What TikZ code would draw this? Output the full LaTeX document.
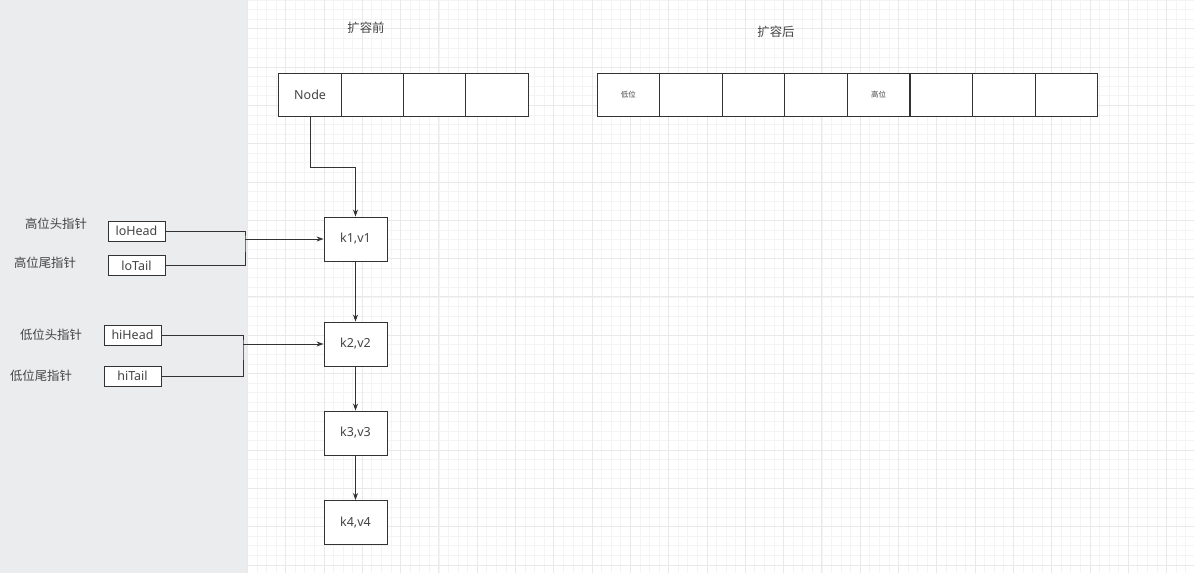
\documentclass[tikz,border=0pt]{standalone}
\usepackage{fontspec}
\setmainfont{Noto Sans}
\newfontfamily\cjk{Noto Sans CJK SC}
\usetikzlibrary{arrows.meta}
\definecolor{panel}{HTML}{EBECEE}
\definecolor{gminor}{HTML}{F4F4F4}
\definecolor{gmajor}{HTML}{E9E9E9}
\definecolor{linec}{HTML}{333333}
\definecolor{textc}{HTML}{444444}
\begin{document}
\begin{tikzpicture}[x=1pt,y=-1pt,
  cell/.style={draw=linec,line width=0.9pt,fill=white,minimum width=62.4pt,minimum height=43pt,inner sep=0pt,text=textc,font=\fontsize{12.5}{14}\selectfont},
  kbox/.style={draw=linec,line width=0.9pt,fill=white,minimum width=63pt,minimum height=44pt,inner sep=0pt,text=textc,font=\fontsize{12.5}{14}\selectfont},
  pbox/.style={draw=linec,line width=0.9pt,fill=white,minimum width=57pt,minimum height=20pt,inner sep=0pt,text=textc,font=\fontsize{12.5}{14}\selectfont},
  lab/.style={text=textc,inner sep=0pt,font=\cjk\fontsize{12.4}{14}\selectfont},
  small/.style={text=textc,inner sep=0pt,font=\cjk\fontsize{8}{9}\selectfont},
  conn/.style={draw=linec,line width=0.8pt},
  arr/.style={conn,-{Stealth[length=7pt,width=5pt]}}]
\useasboundingbox (0,0) rectangle (1194,573);
\fill[white] (0,0) rectangle (1194,573);
% grid
\foreach \i in {0,...,98} {
  \pgfmathsetmacro\gx{247.3+9.575*\i}
  \draw[gminor,line width=0.6pt] (\gx,0) -- (\gx,573);
}
\foreach \j in {0,...,60} {
  \pgfmathsetmacro\gy{9.575*\j}
  \draw[gminor,line width=0.6pt] (247,\gy) -- (1194,\gy);
}
\foreach \i in {0,...,24} {
  \pgfmathsetmacro\gx{247.3+38.3*\i}
  \draw[gmajor,line width=0.8pt] (\gx,0) -- (\gx,573);
}
\foreach \j in {0,...,14} {
  \pgfmathsetmacro\gy{28.7+38.3*\j}
  \draw[gmajor,line width=0.8pt] (247,\gy) -- (1194,\gy);
}
\fill[panel] (0,0) rectangle (247,573);
% titles
\node[lab] (t1) at (366,28) {扩容前};
\node[lab] (t2) at (776,32) {扩容后};
% array before
\node[cell] (a1) at (310.1,94.5) {Node};
\node[cell] (a2) at (372.4,94.5) {};
\node[cell] (a3) at (434.6,94.5) {};
\node[cell] (a4) at (496.9,94.5) {};
% array after
\node[cell,font=\cjk\fontsize{7.5}{9}\selectfont] (b1) at (628.3,94.5) {低位};
\node[cell] (b2) at (690.9,94.5) {};
\node[cell] (b3) at (753.5,94.5) {};
\node[cell] (b4) at (816.1,94.5) {};
\node[cell,font=\cjk\fontsize{7.5}{9}\selectfont] (b5) at (878.7,94.5) {高位};
\node[cell] (b6) at (941.3,94.5) {};
\node[cell] (b7) at (1003.9,94.5) {};
\node[cell] (b8) at (1066.5,94.5) {};
% chain
\node[kbox] (k1) at (355.5,239) {k1,v1};
\node[kbox] (k2) at (355.5,344) {k2,v2};
\node[kbox] (k3) at (355.5,433) {k3,v3};
\node[kbox] (k4) at (355.5,522.5) {k4,v4};
\coordinate (bend) at (310.1,167);
\draw[arr] (a1.south) -- (bend) -| (k1.north);
\draw[arr] (k1.south) -- (k2.north);
\draw[arr] (k2.south) -- (k3.north);
\draw[arr] (k3.south) -- (k4.north);
% pointers
\node[pbox] (loHead) at (136.5,231) {loHead};
\node[pbox] (loTail) at (136.5,265.5) {loTail};
\node[pbox] (hiHead) at (132.5,335) {hiHead};
\node[pbox] (hiTail) at (132.5,376) {hiTail};
\node[lab] (l1) at (56,224) {高位头指针};
\node[lab] (l2) at (45,263) {高位尾指针};
\node[lab] (l3) at (51,335) {低位头指针};
\node[lab] (l4) at (41,376) {低位尾指针};
\coordinate (j1) at (245,239);
\coordinate (j2) at (243,344);
\draw[conn] (loHead.east) -| (j1) |- (loTail.east);
\draw[arr] (j1) -- (k1.west);
\draw[conn] (hiHead.east) -| (j2) |- (hiTail.east);
\draw[arr] (j2) -- (k2.west);
\end{tikzpicture}
\end{document}
